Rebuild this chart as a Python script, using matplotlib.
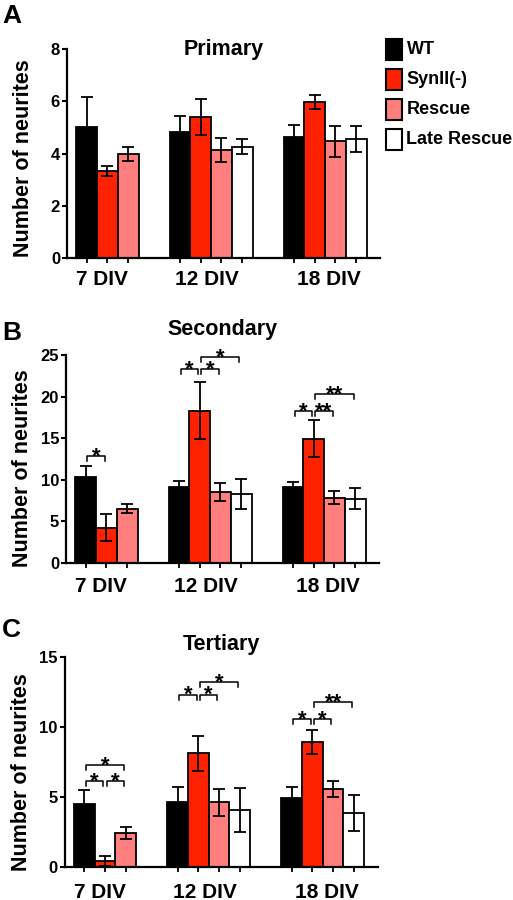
import matplotlib
matplotlib.use('Agg')
import matplotlib.pyplot as plt
from matplotlib.patches import Rectangle

plt.rcParams['font.family'] = ['Liberation Sans', 'DejaVu Sans']
plt.rcParams['font.weight'] = 'bold'

# ---- data ----
genotypes = ['WT', 'SynII(-)', 'Rescue', 'Late Rescue']
colors = ['#000000', '#ff2200', '#ff7f7f', '#ffffff']
days = ['7 DIV', '12 DIV', '18 DIV']

primary_mean = [[5.0, 3.33, 3.98], [4.84, 5.38, 4.14, 4.26], [4.65, 5.97, 4.46, 4.55]]
primary_err = [[1.15, 0.2, 0.25], [0.6, 0.69, 0.47, 0.28], [0.43, 0.26, 0.61, 0.5]]

secondary_mean = [[10.3, 4.25, 6.55], [9.1, 18.3, 8.55, 8.3], [9.1, 14.95, 7.85, 7.75]]
secondary_err = [[1.35, 1.6, 0.5], [0.72, 3.45, 1.05, 1.8], [0.6, 2.2, 0.8, 1.25]]

tertiary_mean = [[4.5, 0.4, 2.4], [4.62, 8.1, 4.6, 4.05], [4.93, 8.9, 5.55, 3.83]]
tertiary_err = [[0.98, 0.35, 0.45], [1.1, 1.27, 0.97, 1.6], [0.74, 0.88, 0.6, 1.3]]

# significance brackets: (day group, bar i, bar j, height, label)
secondary_sig = [(0, 0, 1, 12.9, '*'), (1, 0, 1, 23.3, '*'), (1, 1, 2, 23.3, '*'),
                 (1, 1, 3, 24.8, '*'), (2, 0, 1, 18.3, '*'), (2, 1, 2, 18.3, '**'),
                 (2, 1, 3, 20.3, '**')]
tertiary_sig = [(0, 0, 1, 6.12, '*'), (0, 1, 2, 6.12, '*'), (0, 0, 2, 7.26, '*'),
                (1, 0, 1, 12.3, '*'), (1, 1, 2, 12.3, '*'), (1, 1, 3, 13.2, '*'),
                (2, 0, 1, 10.57, '*'), (2, 1, 2, 10.57, '*'), (2, 1, 3, 11.76, '**')]

# ---- layout ----
W, H = 513, 900
group_start = [0, 4.5, 10]
label_x = [1.25, 6.3, 12.2]

fig = plt.figure(figsize=(W / 100, H / 100), dpi=100)


def px_rect(left, top, bottom, width=313):
    return [left / W, 1 - bottom / H, width / W, (bottom - top) / H]


def draw_panel(rect, means, errs, ymax, yticks, title, title_y, letter, letter_y,
               sig, lbl_pad, ylab_xy):
    ax = fig.add_axes(rect)
    centers = []
    for g, (m, e) in enumerate(zip(means, errs)):
        for k in range(len(m)):
            x = group_start[g] + k + 0.5
            centers.append(x)
            ax.bar(x, m[k], width=1.0, color=colors[k], edgecolor='black',
                   linewidth=1.3, zorder=2)
            ax.errorbar(x, m[k], yerr=e[k], color='black', elinewidth=1.3,
                        capsize=4, capthick=1.3, zorder=3)
    ax.set_xlim(-0.45, 14.65)
    ax.set_ylim(0, ymax)
    ax.set_yticks(yticks)
    ax.set_yticklabels([str(t) for t in yticks], fontsize=12, fontweight='bold')
    ax.set_xticks(label_x)
    ax.set_xticklabels(days, fontsize=15, fontweight='bold')
    ax.set_xticks(centers, minor=True)
    ax.tick_params(axis='x', which='major', length=0, pad=lbl_pad)
    ax.tick_params(axis='x', which='minor', length=3.5, width=1.3, direction='out')
    ax.tick_params(axis='y', length=3.5, width=1.5, pad=1.5)
    for s in ['top', 'right']:
        ax.spines[s].set_visible(False)
    for s in ['left', 'bottom']:
        ax.spines[s].set_linewidth(1.6)
    ax.set_ylabel('Number of neurites', fontsize=15.5, fontweight='bold')
    ax.yaxis.set_label_coords(*ylab_xy)
    ax.text(0.5, title_y, title, transform=ax.transAxes, ha='center',
            va='baseline', fontsize=15.5, fontweight='bold')
    fig.text(2 / W, 1 - letter_y / H, letter, ha='left', va='baseline',
             fontsize=19, fontweight='bold')

    leg = 0.025 * ymax
    for g, i, j, y, lab in sig:
        x1 = group_start[g] + i + 0.5 + 0.08
        x2 = group_start[g] + j + 0.5 - 0.08
        ax.plot([x1, x1, x2, x2], [y - leg, y, y, y - leg], color='black',
                lw=1.1, clip_on=False, zorder=4)
        ax.annotate(lab, ((x1 + x2) / 2, y), xytext=(0, -4.8),
                    textcoords='offset points', ha='center', va='baseline',
                    fontsize=16, fontweight='bold', annotation_clip=False)
    return ax


draw_panel(px_rect(67, 49, 258), primary_mean, primary_err, 8, [0, 2, 4, 6, 8],
           'Primary', 0.971, 'A', 23, [], 8.6, (-0.105, 0.476))
draw_panel(px_rect(66, 355, 563), secondary_mean, secondary_err, 25,
           [0, 5, 10, 15, 20, 25], 'Secondary', 1.096, 'B', 340, secondary_sig,
           9.8, (-0.105, 0.454))
draw_panel(px_rect(64.7, 656.7, 866.7), tertiary_mean, tertiary_err, 15,
           [0, 5, 10, 15], 'Tertiary', 1.032, 'C', 637, tertiary_sig,
           11.5, (-0.105, 0.452))

# ---- legend (drawn by hand to match the figure) ----
for i, (name, col) in enumerate(zip(genotypes, colors)):
    cy = 49 + 30.2 * i
    fig.patches.append(Rectangle((386 / W, 1 - (cy + 10.5) / H), 16 / W, 21 / H,
                                 transform=fig.transFigure, facecolor=col,
                                 edgecolor='black', linewidth=1.5))
    fig.text(406.5 / W, 1 - cy / H, name, ha='left', va='center',
             fontsize=13, fontweight='bold')

fig.savefig('out.png', dpi=100)
